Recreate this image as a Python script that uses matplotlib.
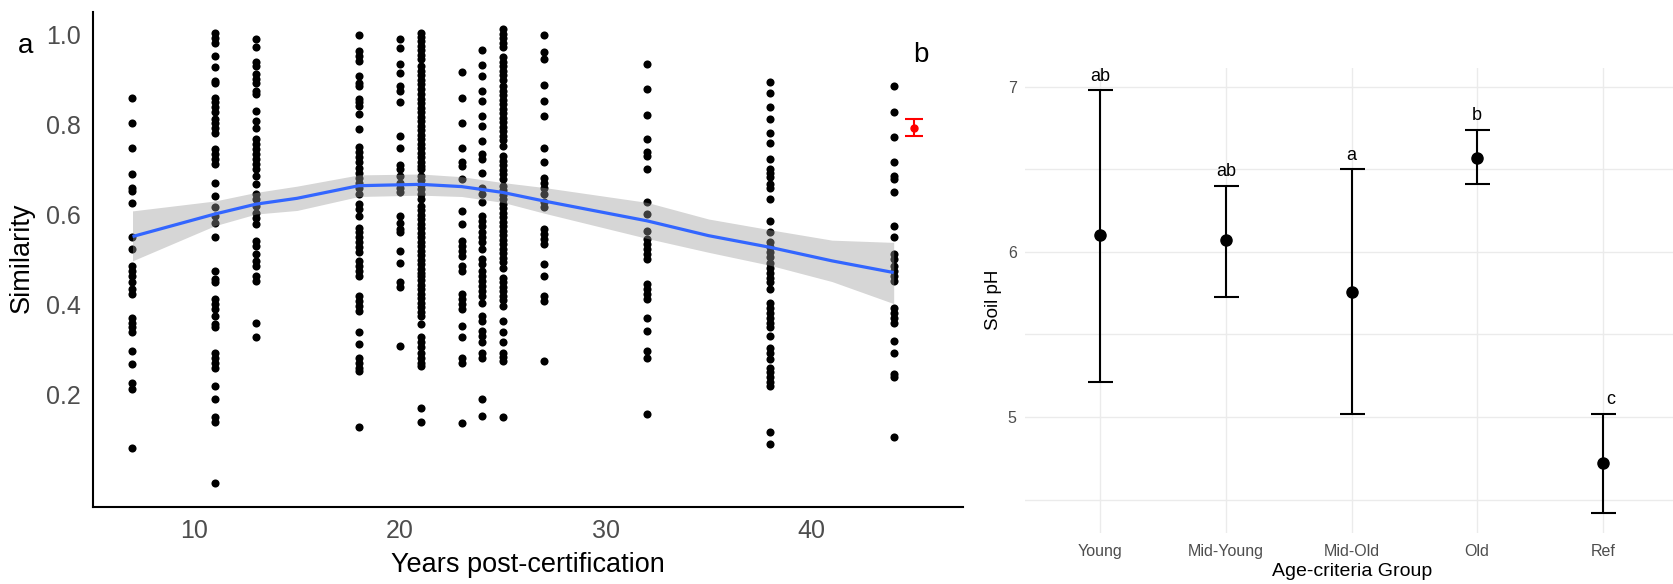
import matplotlib
matplotlib.use("Agg")
import matplotlib.pyplot as plt

plt.rcParams['font.family'] = ['Liberation Sans', 'DejaVu Sans']

# ---------------- Panel a data: similarity by years post-certification ----------------
sim_y7 = [0.860, 0.804, 0.747, 0.690, 0.658, 0.652, 0.625, 0.551, 0.523, 0.486, 0.475, 0.464,
          0.450, 0.434, 0.423, 0.371, 0.360, 0.349, 0.338, 0.296, 0.267, 0.225, 0.212, 0.082]
sim_y11 = [1.003, 0.993, 0.982, 0.953, 0.927, 0.897, 0.893, 0.860, 0.849, 0.838, 0.827, 0.812,
           0.804, 0.793, 0.782, 0.745, 0.734, 0.723, 0.712, 0.671, 0.641, 0.616, 0.597, 0.582,
           0.549, 0.475, 0.456, 0.449, 0.412, 0.401, 0.390, 0.375, 0.356, 0.349, 0.293, 0.282,
           0.271, 0.260, 0.219, 0.190, 0.149, 0.138, 0.004]
sim_y13 = [0.991, 0.973, 0.939, 0.930, 0.912, 0.901, 0.893, 0.875, 0.867, 0.830, 0.808, 0.793,
           0.767, 0.756, 0.745, 0.734, 0.723, 0.712, 0.701, 0.686, 0.667, 0.645, 0.634, 0.619,
           0.604, 0.593, 0.579, 0.541, 0.530, 0.512, 0.497, 0.486, 0.464, 0.453, 0.360, 0.327]
sim_y18 = [0.999, 0.964, 0.953, 0.941, 0.908, 0.893, 0.886, 0.856, 0.849, 0.842, 0.823, 0.790,
           0.749, 0.738, 0.727, 0.716, 0.704, 0.693, 0.682, 0.671, 0.660, 0.645, 0.623, 0.612,
           0.597, 0.571, 0.560, 0.549, 0.538, 0.527, 0.516, 0.497, 0.486, 0.475, 0.464, 0.419,
           0.408, 0.397, 0.386, 0.338, 0.312, 0.282, 0.271, 0.260, 0.253, 0.127]
sim_y20 = [0.991, 0.971, 0.934, 0.915, 0.886, 0.875, 0.850, 0.775, 0.747, 0.710, 0.701, 0.686,
           0.671, 0.660, 0.649, 0.597, 0.582, 0.567, 0.560, 0.519, 0.493, 0.449, 0.438, 0.308]
sim_y21 = [1.004, 0.995, 0.985, 0.975, 0.965, 0.955, 0.945, 0.930, 0.920, 0.910, 0.900, 0.889,
           0.879, 0.867, 0.857, 0.847, 0.837, 0.827, 0.817, 0.807, 0.797, 0.787, 0.777, 0.767,
           0.757, 0.747, 0.737, 0.727, 0.717, 0.707, 0.701, 0.686, 0.676, 0.666, 0.656, 0.646,
           0.634, 0.619, 0.609, 0.599, 0.589, 0.579, 0.569, 0.559, 0.549, 0.539, 0.529, 0.519,
           0.509, 0.499, 0.489, 0.479, 0.471, 0.464, 0.454, 0.444, 0.434, 0.424, 0.414, 0.404,
           0.394, 0.384, 0.375, 0.356, 0.327, 0.316, 0.305, 0.293, 0.282, 0.271, 0.264, 0.171,
           0.138]
sim_y23 = [0.917, 0.858, 0.804, 0.747, 0.716, 0.708, 0.680, 0.608, 0.579, 0.541, 0.530, 0.519,
           0.508, 0.486, 0.475, 0.423, 0.412, 0.401, 0.390, 0.353, 0.327, 0.282, 0.271, 0.136]
sim_y24 = [0.966, 0.932, 0.908, 0.875, 0.853, 0.818, 0.797, 0.764, 0.734, 0.723, 0.693, 0.660,
           0.645, 0.627, 0.597, 0.586, 0.575, 0.560, 0.549, 0.538, 0.523, 0.501, 0.490, 0.475,
           0.464, 0.453, 0.442, 0.430, 0.419, 0.404, 0.375, 0.364, 0.342, 0.330, 0.316, 0.293,
           0.282, 0.190, 0.153]
sim_y25 = [1.012, 1.002, 0.992, 0.982, 0.972, 0.950, 0.940, 0.930, 0.920, 0.910, 0.900, 0.885,
           0.875, 0.865, 0.855, 0.845, 0.835, 0.825, 0.815, 0.805, 0.795, 0.785, 0.775, 0.765,
           0.753, 0.730, 0.720, 0.710, 0.700, 0.690, 0.679, 0.664, 0.654, 0.644, 0.634, 0.624,
           0.614, 0.604, 0.594, 0.584, 0.574, 0.564, 0.554, 0.544, 0.534, 0.524, 0.514, 0.504,
           0.494, 0.482, 0.460, 0.450, 0.440, 0.430, 0.420, 0.410, 0.397, 0.364, 0.338, 0.316,
           0.293, 0.284, 0.275, 0.149]
sim_y27 = [0.999, 0.961, 0.945, 0.887, 0.853, 0.819, 0.747, 0.717, 0.682, 0.671, 0.660, 0.645,
           0.627, 0.616, 0.567, 0.556, 0.545, 0.534, 0.490, 0.464, 0.419, 0.408, 0.275]
sim_y32 = [0.934, 0.879, 0.821, 0.767, 0.738, 0.730, 0.701, 0.627, 0.601, 0.564, 0.545, 0.534,
           0.523, 0.512, 0.501, 0.445, 0.434, 0.423, 0.412, 0.371, 0.342, 0.297, 0.282, 0.156]
sim_y38 = [0.895, 0.871, 0.838, 0.812, 0.782, 0.759, 0.724, 0.702, 0.693, 0.684, 0.667, 0.660,
           0.634, 0.586, 0.560, 0.538, 0.527, 0.516, 0.505, 0.493, 0.482, 0.471, 0.460, 0.449,
           0.434, 0.404, 0.393, 0.382, 0.371, 0.360, 0.349, 0.330, 0.304, 0.293, 0.279, 0.260,
           0.249, 0.238, 0.227, 0.219, 0.117, 0.090]
sim_y44 = [0.886, 0.827, 0.773, 0.716, 0.686, 0.680, 0.649, 0.575, 0.549, 0.512, 0.501, 0.486,
           0.475, 0.464, 0.453, 0.393, 0.382, 0.371, 0.360, 0.319, 0.292, 0.245, 0.238, 0.105]

years = [7, 11, 13, 18, 20, 21, 23, 24, 25, 27, 32, 38, 44]
sim_columns = [sim_y7, sim_y11, sim_y13, sim_y18, sim_y20, sim_y21, sim_y23, sim_y24,
               sim_y25, sim_y27, sim_y32, sim_y38, sim_y44]

# LOESS smooth
smooth_x = [7, 11, 13, 15, 18, 21, 23, 25, 27, 32, 35, 38, 41, 44]
smooth_fit = [0.551, 0.601, 0.623, 0.636, 0.664, 0.667, 0.662, 0.649, 0.630, 0.586, 0.553,
              0.527, 0.497, 0.471]
smooth_hi = [0.608, 0.630, 0.649, 0.663, 0.688, 0.690, 0.684, 0.671, 0.660, 0.627, 0.590,
             0.566, 0.543, 0.538]
smooth_lo = [0.497, 0.575, 0.601, 0.609, 0.640, 0.643, 0.640, 0.627, 0.603, 0.547, 0.516,
             0.487, 0.451, 0.402]

# reference point (red)
ref_x = [45]
ref_mean = [0.793]
ref_lo = [0.775]
ref_hi = [0.812]

# ---------------- Panel b data: soil pH by age-criteria group ----------------
groups = ["Young", "Mid-Young", "Mid-Old", "Old", "Ref"]
ph_mean = [6.10, 6.07, 5.76, 6.57, 4.72]
ph_lower = [5.21, 5.73, 5.02, 6.41, 4.42]
ph_upper = [6.98, 6.40, 6.50, 6.74, 5.02]
letters = ["ab", "ab", "a", "b", "c"]

W, H = 1673, 584
fig = plt.figure(figsize=(W / 100, H / 100), dpi=100)

# ---------- left panel ----------
L, R, T, B = 93, 963, 12, 507
ax1 = fig.add_axes([L / W, (H - B) / H, (R - L) / W, (B - T) / H])
xs, ys = [], []
for yr, col in zip(years, sim_columns):
    xs.extend([yr] * len(col))
    ys.extend(col)
ax1.scatter(xs, ys, s=34, c='black', linewidths=0, zorder=2)
ax1.fill_between(smooth_x, smooth_lo, smooth_hi, color='#999999', alpha=0.4, lw=0, zorder=3)
ax1.plot(smooth_x, smooth_fit, color='#3366FF', lw=2.3, zorder=4, solid_capstyle='butt')
ref_err = [[m - l for m, l in zip(ref_mean, ref_lo)], [h - m for m, h in zip(ref_mean, ref_hi)]]
ax1.errorbar(ref_x, ref_mean, yerr=ref_err, fmt='o', color='red', ms=5, capsize=6.8,
             elinewidth=1.5, capthick=1.5, zorder=5)
ax1.set_xlim(5.08, 47.37)
ax1.set_ylim(-0.05, 1.05)
ax1.set_xticks([10, 20, 30, 40])
ax1.set_yticks([0.2, 0.4, 0.6, 0.8, 1.0])
ax1.set_yticklabels(["0.2", "0.4", "0.6", "0.8", "1.0"])
for s in ['top', 'right']:
    ax1.spines[s].set_visible(False)
for s in ['left', 'bottom']:
    ax1.spines[s].set_linewidth(1.5)
    ax1.spines[s].set_color('black')
ax1.tick_params(axis='both', length=0, labelsize=18, labelcolor='#4D4D4D')
ax1.tick_params(axis='y', pad=9)
ax1.tick_params(axis='x', pad=9)

fig.text(22 / W, 1 - 258 / H, "Similarity", rotation=90, ha='center', va='center', fontsize=19.5)
fig.text(528 / W, 1 - 565 / H, "Years post-certification", ha='center', va='center',
         fontsize=19.5)
fig.text(26 / W, 1 - 46 / H, "a", ha='center', va='center', fontsize=20)
fig.text(921 / W, 1 - 55 / H, "b", ha='center', va='center', fontsize=20)

# ---------- right panel ----------
L2, T2, B2 = 1025, 68, 533
step = 125.6
ax2 = fig.add_axes([L2 / W, (H - B2) / H, (W - L2) / W, (B2 - T2) / H])
xpos = list(range(1, len(groups) + 1))
ax2.set_xlim(0.4, 0.4 + (W - L2) / step)
ax2.set_ylim(4.297, 7.115)
ax2.set_yticks([5, 6, 7])
ax2.set_yticks([4.5, 5.5, 6.5], minor=True)
ax2.set_xticks(xpos)
ax2.set_xticklabels(groups)
ax2.grid(True, which='both', color='#EBEBEB', lw=1.0, zorder=0)
ax2.set_axisbelow(True)
for s in ax2.spines.values():
    s.set_visible(False)
ax2.tick_params(axis='both', which='both', length=0, labelsize=11.5, labelcolor='#4D4D4D')
ax2.tick_params(axis='x', pad=8)
ax2.tick_params(axis='y', pad=6)
err = [[m - l for m, l in zip(ph_mean, ph_lower)], [u - m for m, u in zip(ph_mean, ph_upper)]]
ax2.errorbar(xpos, ph_mean, yerr=err, fmt='o', color='black', ms=8, capsize=9,
             elinewidth=1.5, capthick=1.5, zorder=3)
label_dx = {"c": 6}
for xi, up, lab in zip(xpos, ph_upper, letters):
    ax2.annotate(lab, (xi, up), xytext=(label_dx.get(lab, 0), 4), textcoords='offset points',
                 ha='center', va='bottom', fontsize=13, color='black')

fig.text(994 / W, 1 - 300 / H, "Soil pH", rotation=90, ha='center', va='center', fontsize=13.5)
fig.text(1352 / W, 1 - 572 / H, "Age-criteria Group", ha='center', va='center', fontsize=14)

fig.savefig("out.png", dpi=100)
